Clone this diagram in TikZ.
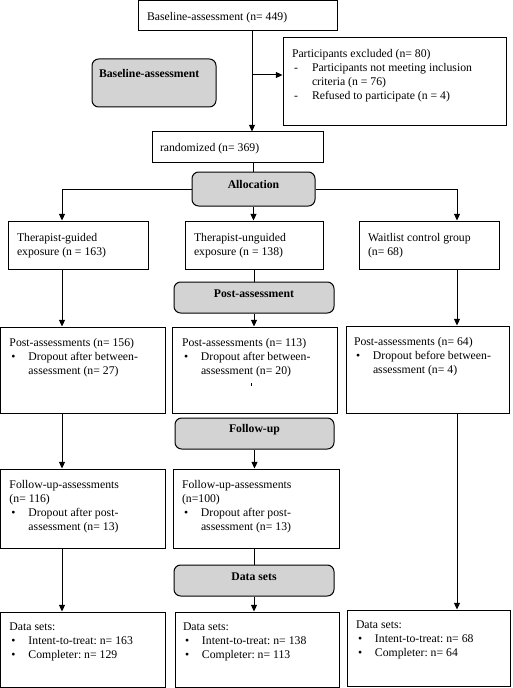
\documentclass[tikz,border=0pt]{standalone}
\usepackage{fontspec}
\setmainfont{Liberation Serif}
\usetikzlibrary{arrows.meta,fit}

\frenchspacing
\newcommand{\flowfont}{\fontsize{8.8}{10.5}\selectfont}
\newcommand{\blt}{\makebox[14.25pt][l]{\hspace{1.5pt}\textbullet}}
\newcommand{\dsh}{\makebox[15pt][l]{\hspace{1.5pt}-}}

\tikzset{every picture/.style={line width=0.75pt}}
\tikzset{
	box/.style={draw, inner sep=0pt},
	stage/.style={draw, rounded corners=5pt, inner sep=0pt,
		fill={rgb, 255:red, 211; green, 211; blue, 211}, font=\flowfont\bfseries},
	txt/.style={anchor=north west, inner sep=0pt, align=left},
	arr/.style={-{Triangle[length=5pt,width=4.5pt]}}}

\begin{document}
\begin{tikzpicture}[x=0.75pt,y=0.75pt,yscale=-1,xscale=1,font=\flowfont]
	\useasboundingbox (0,0) rectangle (513,688);
	\coordinate (colL) at (62,0);
	\coordinate (colR) at (457,0);
	\coordinate (split) at (252,75);

	%Shape: Rectangle [baseline]
	\node[box, fit={(138,0.5) (337,31)}] (base) {};
	%Shape: Rectangle [excluded]
	\node[box, fit={(283,38) (506,126)}] (excl) {};
	%Shape: Rounded Rect [stage baseline]
	\node[stage, fit={(92,59) (216,107)}] (bstage) {};
	%Shape: Rectangle [randomized]
	\node[box, fit={(152,132) (323,162)}] (rand) {};
	%Shape: Rounded Rect [allocation]
	\node[stage, fit={(192,172) (315,206)}] (alloc) {Allocation};

	%Shape: Rectangle [groups]
	\node[box, fit={(8,221) (148,269)}] (tg) {};
	\node[box, fit={(185,221) (323,269)}] (tu) {};
	\node[box, fit={(359,221) (499,269)}] (wl) {};
	%Shape: Rounded Rect [post]
	\node[stage, fit={(174,282) (334,313)}] (post) {Post-assessment};

	%Shape: Rectangle [post-assessments]
	\node[box, fit={(0.5,327) (165,413)}] (pa1) {};
	\node[box, fit={(172,327) (337,413)}] (pa2) {};
	\node[box, fit={(346,326) (509,413)}] (pa3) {};
	%Shape: Rounded Rect [follow-up]
	\node[stage, fit={(175,418) (334,449)}] (fup) {Follow-up};

	%Shape: Rectangle [follow-up-assessments]
	\node[box, fit={(0.5,469) (165,548)}] (fu1) {};
	\node[box, fit={(173,469) (339,548)}] (fu2) {};
	%Shape: Rounded Rect [data sets]
	\node[stage, fit={(174,565) (334,596)}] (dset) {Data sets};

	%Shape: Rectangle [data sets]
	\node[box, fit={(0.5,612) (165,687.5)}] (ds1) {};
	\node[box, fit={(175,612) (339,687)}] (ds2) {};
	\node[box, fit={(347,610) (510,686)}] (ds3) {};

	%Straight Lines
	\draw[arr] (base.south -| split) -- (rand.north -| split);
	\draw[arr] (split) -- (split -| excl.west);
	\draw (rand.south -| alloc) -- (alloc.north);
	\draw[arr] (alloc.west) -| (tg.north -| colL);
	\draw[arr] (alloc.east) -| (wl.north -| colR);
	\draw[arr] (alloc.south) -- (tu.north -| alloc);
	\draw (tu.south -| post) -- (post.north);
	\draw[arr] (post.south) -- (pa2.north -| post);
	\draw[arr] (tg.south -| colL) -- (pa1.north -| colL);
	\draw[arr] (wl.south -| colR) -- (pa3.north -| colR);
	\draw[arr] (pa1.south -| colL) -- (fu1.north -| colL);
	\draw[arr] (fup.south) -- (fu2.north -| fup);
	\draw[arr] (pa3.south -| colR) -- (ds3.north -| colR);
	\draw[arr] (fu1.south -| colL) -- (ds1.north -| colL);
	\draw (fu2.south -| dset) -- (dset.north);
	\draw[arr] (dset.south) -- (ds2.north -| dset);
	\draw[line width=0.5pt] (251,383) -- (251,386);

	% Text Node
	\node[txt] (baseT) at ([shift={(9,12)}]base.north west) {Baseline-assessment (n= 449)};
	% Text Node
	\node[txt] (exclT) at ([shift={(9,10)}]excl.north west) {\begin{tabular}{@{}l@{}l@{}}
		\multicolumn{2}{@{}l@{}}{Participants excluded (n= 80)}\\
		\dsh & Participants not meeting inclusion\\
		& criteria (n = 76)\\
		\dsh & Refused to participate (n = 4)\end{tabular}};
	% Text Node
	\node[txt, font=\flowfont\bfseries] (bstageT) at ([shift={(7,10)}]bstage.north west) {Baseline-assessment};
	% Text Node
	\node[txt] (randT) at ([shift={(8,11)}]rand.north west) {randomized (n= 369)};
	% Text Node
	\node[txt] (tgT) at ([shift={(9,12)}]tg.north west) {Therapist-guided\\exposure (n = 163)};
	% Text Node
	\node[txt] (tuT) at ([shift={(9,12)}]tu.north west) {Therapist-unguided\\exposure (n = 138)};
	% Text Node
	\node[txt] (wlT) at ([shift={(9,12)}]wl.north west) {Waitlist control group\\(n= 68)};
	% Text Node
	\node[txt] (pa1T) at ([shift={(9,10)}]pa1.north west) {\begin{tabular}{@{}l@{}l@{}}
		\multicolumn{2}{@{}l@{}}{Post-assessments (n= 156)}\\
		\blt & Dropout after between-\\ & assessment (n= 27)\end{tabular}};
	% Text Node
	\node[txt] (pa2T) at ([shift={(10,10)}]pa2.north west) {\begin{tabular}{@{}l@{}l@{}}
		\multicolumn{2}{@{}l@{}}{Post-assessments (n= 113)}\\
		\blt & Dropout after between-\\ & assessment (n= 20)\end{tabular}};
	% Text Node
	\node[txt] (pa3T) at ([shift={(8,10)}]pa3.north west) {\begin{tabular}{@{}l@{}l@{}}
		\multicolumn{2}{@{}l@{}}{Post-assessments (n= 64)}\\
		\blt & Dropout before between-\\ & assessment (n= 4)\end{tabular}};
	% Text Node
	\node[txt] (fu1T) at ([shift={(9,10)}]fu1.north west) {\begin{tabular}{@{}l@{}l@{}}
		\multicolumn{2}{@{}l@{}}{Follow-up-assessments}\\
		\multicolumn{2}{@{}l@{}}{(n= 116)}\\
		\blt & Dropout after post-\\ & assessment (n= 13)\end{tabular}};
	% Text Node
	\node[txt] (fu2T) at ([shift={(9,10)}]fu2.north west) {\begin{tabular}{@{}l@{}l@{}}
		\multicolumn{2}{@{}l@{}}{Follow-up-assessments}\\
		\multicolumn{2}{@{}l@{}}{(n=100)}\\
		\blt & Dropout after post-\\ & assessment (n= 13)\end{tabular}};
	% Text Node
	\node[txt] (ds1T) at ([shift={(9,9)}]ds1.north west) {\begin{tabular}{@{}l@{}l@{}}
		\multicolumn{2}{@{}l@{}}{Data sets:}\\
		\blt & Intent-to-treat: n= 163\\ \blt & Completer: n= 129\end{tabular}};
	% Text Node
	\node[txt] (ds2T) at ([shift={(8,9)}]ds2.north west) {\begin{tabular}{@{}l@{}l@{}}
		\multicolumn{2}{@{}l@{}}{Data sets:}\\
		\blt & Intent-to-treat: n= 138\\ \blt & Completer: n= 113\end{tabular}};
	% Text Node
	\node[txt] (ds3T) at ([shift={(9,9)}]ds3.north west) {\begin{tabular}{@{}l@{}l@{}}
		\multicolumn{2}{@{}l@{}}{Data sets:}\\
		\blt & Intent-to-treat: n= 68\\ \blt & Completer: n= 64\end{tabular}};

\end{tikzpicture}
\end{document}
